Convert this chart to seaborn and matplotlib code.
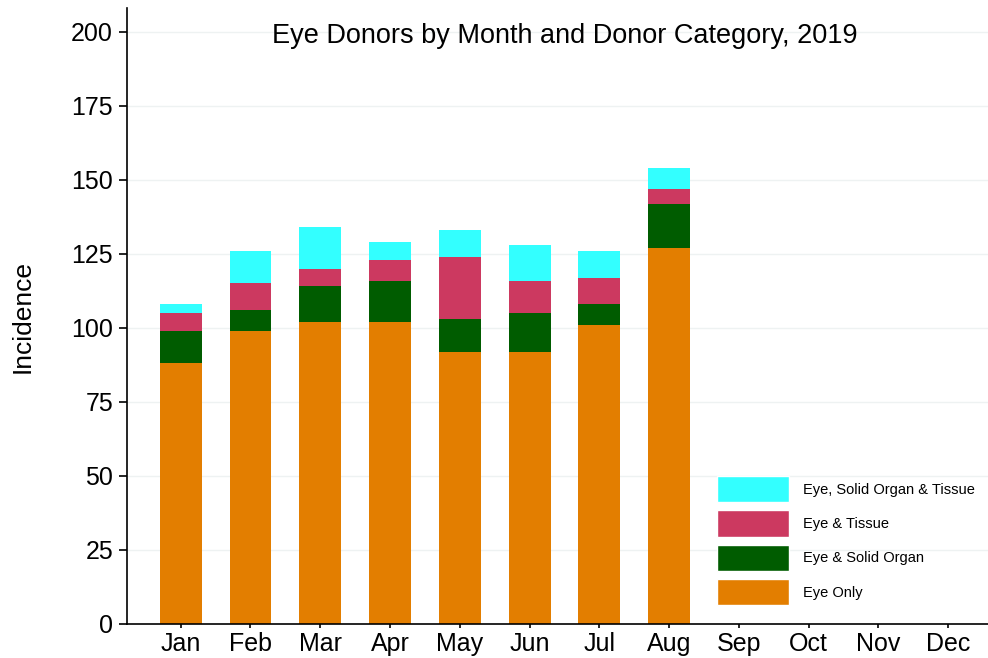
import pandas as pd
import matplotlib
matplotlib.use('Agg')
import matplotlib.pyplot as plt
from matplotlib.patches import Patch
import seaborn as sns

# Values
months = ['Jan', 'Feb', 'Mar', 'Apr', 'May', 'Jun', 'Jul', 'Aug', 'Sep', 'Oct', 'Nov', 'Dec']
data_months = ['Jan', 'Feb', 'Mar', 'Apr', 'May', 'Jun', 'Jul', 'Aug']
eye_only = [88, 99, 102, 102, 92, 92, 101, 127]
eye_solid_organ = [11, 7, 12, 14, 11, 13, 7, 15]
eye_tissue = [6, 9, 6, 7, 21, 11, 9, 5]
eye_solid_tissue = [3, 11, 14, 6, 9, 12, 9, 7]

categories = ['Eye Only', 'Eye & Solid Organ', 'Eye & Tissue', 'Eye, Solid Organ & Tissue']
colors = ['#E37E00', '#005C00', '#CC3960', '#33FFFF']

df = pd.DataFrame({
    'month': data_months,
    'Eye Only': eye_only,
    'Eye & Solid Organ': eye_solid_organ,
    'Eye & Tissue': eye_tissue,
    'Eye, Solid Organ & Tissue': eye_solid_tissue,
})

# cumulative tops so the bars can be layered tallest first
cum = df[categories].cumsum(axis=1)
cum['month'] = df['month']

sns.set_style('white')
plt.rcParams['font.family'] = ['Liberation Sans', 'DejaVu Sans']
plt.rcParams['text.color'] = 'black'
plt.rcParams['axes.labelcolor'] = 'black'
plt.rcParams['xtick.color'] = 'black'
plt.rcParams['ytick.color'] = 'black'

fig = plt.figure(figsize=(9.88, 6.58), dpi=100)
ax = fig.add_axes([0.1285, 0.0517, 0.8715, 0.936])

for cat, col in reversed(list(zip(categories, colors))):
    sns.barplot(x='month', y=cat, data=cum, order=months, color=col,
                width=0.6, saturation=1, ax=ax, errorbar=None, linewidth=0)

ax.set_ylim(0, 208)
ax.set_xlim(-0.77, 11.57)
ax.set_yticks(range(0, 201, 25))
ax.yaxis.grid(True, color='#EEF2F2', linewidth=1)
ax.set_axisbelow(True)
for s in ['top', 'right']:
    ax.spines[s].set_visible(False)
for s in ['left', 'bottom']:
    ax.spines[s].set_color('black')
    ax.spines[s].set_linewidth(1.2)
ax.tick_params(axis='y', labelsize=18, length=6, width=1.2, pad=4, color='black',
               direction='out', left=True, labelcolor='black')
ax.tick_params(axis='x', labelsize=18, length=3, width=1.2, pad=2.5, color='black',
               direction='out', bottom=True, labelcolor='black')
ax.set_xlabel('')
ax.set_ylabel('Incidence', fontsize=19, labelpad=26, color='black')

ax.text(0.5085, 0.975, 'Eye Donors by Month and Donor Category, 2019', transform=ax.transAxes,
        ha='center', va='top', fontsize=19.5, color='black')

handles = [Patch(facecolor=c, label=l) for l, c in zip(categories, colors)][::-1]
ax.legend(handles=handles, loc='lower right', bbox_to_anchor=(1.009, -0.003), frameon=False,
          fontsize=10.5, handlelength=4.9, handleheight=2.4, labelspacing=0.55,
          handletextpad=1.0, borderaxespad=1.0, labelcolor='black')

fig.savefig('out.png', dpi=100)
